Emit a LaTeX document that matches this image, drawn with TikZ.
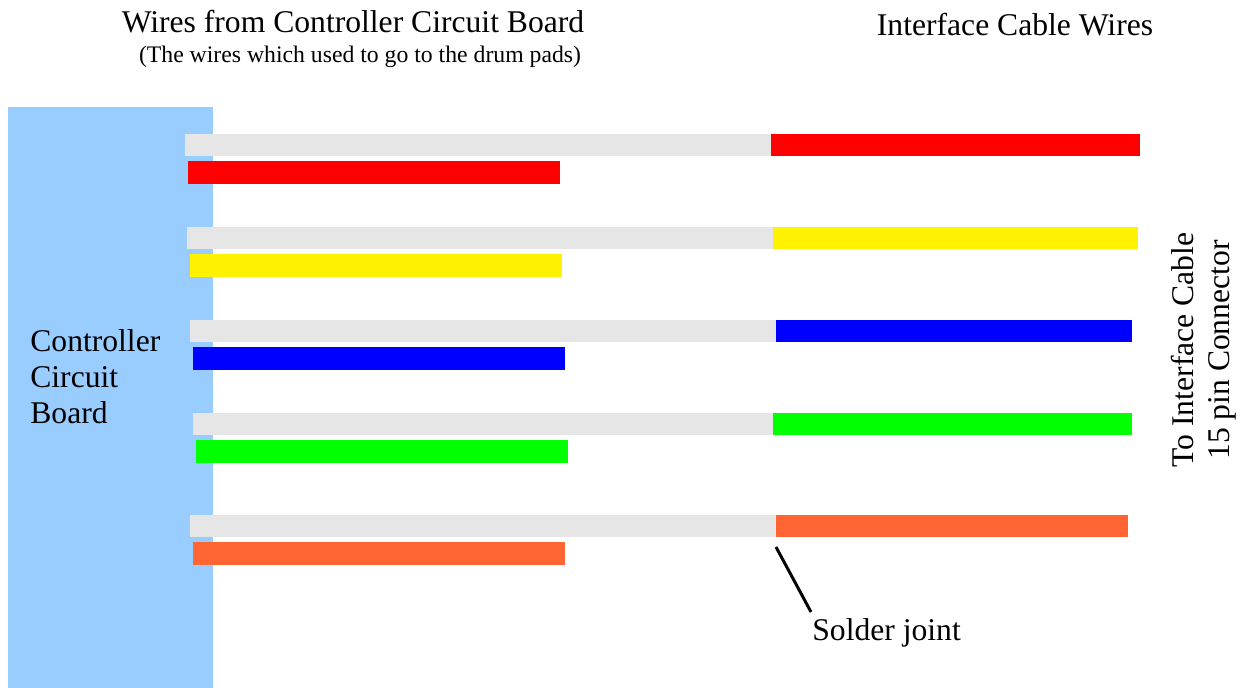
\documentclass[tikz,border=0pt]{standalone}
\usepackage{fontspec}
\setmainfont{Liberation Serif}
\definecolor{boardblue}{HTML}{99CCFF}
\definecolor{wiregray}{HTML}{E6E6E6}
\definecolor{wiregreen}{HTML}{00FF00}
\definecolor{wireorange}{HTML}{FF6633}
\tikzset{
  bigtext/.style={font=\fontsize{18}{20.5}\selectfont, inner sep=0pt},
  smalltext/.style={font=\fontsize{13.5}{16}\selectfont, inner sep=0pt}
}
\begin{document}
\begin{tikzpicture}[x=0.02cm, y=-0.02cm]

  % Bounding box of the scheme
  \useasboundingbox (0,0) rectangle (1243,688) ;

  %%%%%%%%%%%%%%%%%%%%%%%%%%%%%%%%% Circuit board %%%%%%%%%%%%%%%%%%%%%%%%%%%%%%%%%%%%
  \fill[boardblue] (8,107) rectangle (213,688) ;
  \node[bigtext, anchor=west, align=left] (Board) at (30,377) {Controller\\Circuit\\Board} ;

  %%%%%%%%%%%%%%%%%%%%%%%%%%%%%%%%% Wires %%%%%%%%%%%%%%%%%%%%%%%%%%%%%%%%%%%%
  \foreach \y/\c/\xa/\xj/\xe in {134/red/185/771/1140, 227/yellow/187/773/1138, 320/blue/190/776/1132, 413/wiregreen/193/773/1132, 515/wireorange/190/776/1128}
  {
    \fill[wiregray] (\xa,\y) rectangle (\xj,\y+22) ;
    \fill[\c] (\xj,\y) rectangle (\xe,\y+22) ;
    \fill[\c] (\xa+3,\y+27) rectangle (\xa+375,\y+50) ;
  }

  %%%%%%%%%%%%%%%%%%%%%%%%%%%%%%%%% Labels %%%%%%%%%%%%%%%%%%%%%%%%%%%%%%%%%%%%
  \node[bigtext] (Title) at (353,22) {Wires from Controller Circuit Board} ;
  \node[smalltext] (Sub) at (360,57) {(The wires which used to go to the drum pads)} ;
  \node[bigtext] (Cable) at (1015,25) {Interface Cable Wires} ;
  \node[bigtext, rotate=90, align=center] (Conn) at (1204,350) {To Interface Cable\\15 pin Connector} ;

  % Solder joint pointer
  \coordinate (Joint) at (776,547) ;
  \coordinate (Tail) at (811,612) ;
  \node[bigtext, anchor=west] (Solder) at (812,633) {Solder joint} ;
  \draw[line width=1.7pt] (Joint) -- (Tail) ;

\end{tikzpicture}
\end{document}
